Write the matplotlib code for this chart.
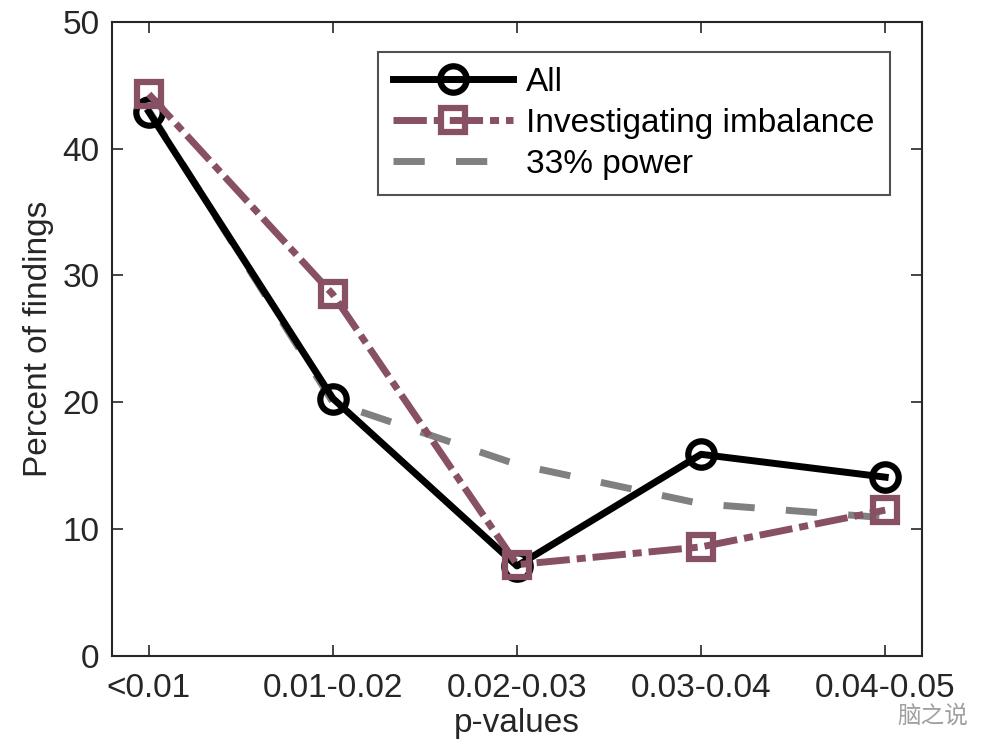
import numpy as np
import matplotlib.pyplot as plt

plt.rcParams['font.family'] = ['Liberation Sans', 'Noto Sans CJK SC', 'DejaVu Sans']

# data
cats = ['<0.01', '0.01-0.02', '0.02-0.03', '0.03-0.04', '0.04-0.05']
all_pct = [42.9, 20.3, 7.1, 15.9, 14.1]
imbalance_pct = [44.3, 28.5, 7.2, 8.6, 11.5]
power33_pct = [43.0, 20.0, 15.1, 12.0, 10.9]

purple = '#875064'
x = np.arange(1, len(cats) + 1)

fig = plt.figure(figsize=(10, 7.51), dpi=100)
ax = fig.add_axes([0.112, 0.1265, 0.81, 0.8445])

ax.plot(x, all_pct, '-o', color='k', lw=5, ms=19, mew=4.5, mfc='none',
        label='All', zorder=3)
ax.plot(x, imbalance_pct, color=purple, lw=5, marker='s', ms=17, mew=4.5,
        mfc='none', dashes=(4.8, 1.0, 1.3, 1.0), label='Investigating imbalance',
        zorder=4)
ax.plot(x, power33_pct, color='#808080', lw=5, dashes=(4.5, 4.5),
        label='33% power', zorder=2)

ax.set_xlim(0.8, 5.2)
ax.set_ylim(0, 50)
ax.set_xticks(x)
ax.set_xticklabels(cats)
ax.set_yticks(np.arange(0, 51, 10))
ax.tick_params(direction='in', length=8, width=1.2, labelsize=24, pad=9,
               top=True, right=True, colors='#262626')
ax.tick_params(axis='x', pad=12)
for s in ax.spines.values():
    s.set_linewidth(1.5)
    s.set_color('#262626')
ax.set_xlabel('p-values', fontsize=24, color='#262626', labelpad=3)
ax.set_ylabel('Percent of findings', fontsize=24, color='#262626', labelpad=6)

leg = ax.legend(loc='upper right', bbox_to_anchor=(0.96, 0.953), fontsize=24,
                frameon=True, fancybox=False, handlelength=3.6,
                borderpad=0.45, labelspacing=0.3, handletextpad=0.4,
                borderaxespad=0)
leg.get_frame().set_edgecolor('#262626')
leg.get_frame().set_linewidth(1.5)

# watermark
fig.text(0.968, 0.046, '脑之说', fontsize=17, color='#a0a0a0', ha='right',
         va='center', family=['Noto Sans CJK SC', 'DejaVu Sans'])

fig.savefig('out.png', dpi=100)
